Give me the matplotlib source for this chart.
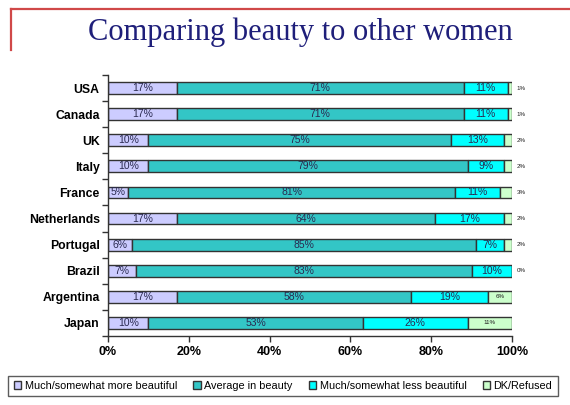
import matplotlib
matplotlib.use("Agg")
import matplotlib.pyplot as plt
import numpy as np

countries = ["USA", "Canada", "UK", "Italy", "France", "Netherlands", "Portugal", "Brazil", "Argentina", "Japan"]
more_beautiful = [17, 17, 10, 10, 5, 17, 6, 7, 17, 10]
average_beauty = [71, 71, 75, 79, 81, 64, 85, 83, 58, 53]
less_beautiful = [11, 11, 13, 9, 11, 17, 7, 10, 19, 26]
dk_refused = [1, 1, 2, 2, 3, 2, 2, 0, 6, 11]

series_names = ["Much/somewhat more beautiful", "Average in beauty", "Much/somewhat less beautiful", "DK/Refused"]
colors = ["#ccccff", "#33c6c6", "#00ffff", "#ccffcc"]
x_ticks = [0, 20, 40, 60, 80, 100]

plt.rcParams["font.family"] = ["Liberation Sans", "DejaVu Sans"]

fig = plt.figure(figsize=(5.7, 4.05), dpi=100)
ax = fig.add_axes([108 / 570, 1 - 336 / 405, 404 / 570, 261 / 405])

y = np.arange(len(countries))
series = [more_beautiful, average_beauty, less_beautiful, dk_refused]
left = np.zeros(len(countries))
for values, color, name in zip(series, colors, series_names):
    vals = np.array(values, dtype=float)
    ax.barh(y, vals, left=left, height=0.45, color=color, edgecolor="#333333", linewidth=1.0, label=name)
    for i, v in enumerate(vals):
        if name == "DK/Refused":
            if v <= 3:
                ax.text(101.2, i, f"{int(v)}%", va="center", ha="left", fontsize=4.5, color="#222222")
            else:
                ax.text(left[i] + v / 2, i, f"{int(v)}%", va="center", ha="center", fontsize=4.5, color="#222222")
        else:
            ax.text(left[i] + v / 2, i, f"{int(v)}%", va="center", ha="center", fontsize=7.5, color="#2a2a50")
    left += vals

ax.set_xlim(0, 100)
ax.set_ylim(len(countries) - 0.5, -0.5)
ax.set_xticks(x_ticks)
ax.set_xticklabels([f"{t}%" for t in x_ticks], fontsize=9, fontweight="bold")
ax.set_yticks(y)
ax.set_yticklabels(countries, fontsize=8.8, fontweight="bold")
ax.tick_params(axis="y", length=0, pad=6)
ax.set_yticks(np.arange(-0.5, len(countries)), minor=True)
ax.tick_params(axis="y", which="minor", length=4, width=1, color="#333333")
ax.tick_params(axis="x", length=4, width=1, color="#333333", pad=3)
for side in ["top", "right"]:
    ax.spines[side].set_visible(False)
for side in ["left", "bottom"]:
    ax.spines[side].set_color("#333333")
    ax.spines[side].set_linewidth(1.0)

fig.text(300 / 570, 1 - 32 / 405, "Comparing beauty to other women", ha="center", va="center",
         fontsize=22, color="#1f1f7a", family=["Liberation Serif", "DejaVu Serif"])

fig.add_artist(plt.Line2D([11 / 570, 1.0], [1 - 9 / 405, 1 - 9 / 405], color="#d04848", linewidth=1.6))
fig.add_artist(plt.Line2D([11 / 570, 11 / 570], [1 - 9 / 405, 1 - 50 / 405], color="#d04848", linewidth=1.6))

leg = fig.legend(loc="center", bbox_to_anchor=(283 / 570, 1 - 386 / 405), ncol=4, fontsize=7.8,
                 frameon=True, fancybox=False, handlelength=0.7, handleheight=0.7, handletextpad=0.3,
                 columnspacing=1.5, borderpad=0.5)
leg.get_frame().set_edgecolor("#333333")
leg.get_frame().set_linewidth(1.0)

fig.savefig("out.png", dpi=100)
